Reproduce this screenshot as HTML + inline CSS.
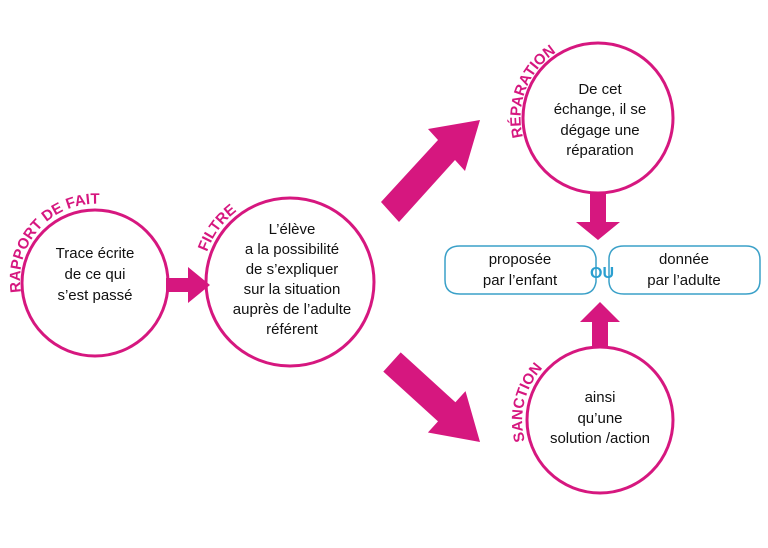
<!DOCTYPE html>
<html><head><meta charset="utf-8"><style>
html,body{margin:0;padding:0;background:#fff}
svg{display:block}
text{font-family:"Liberation Sans",Arial,sans-serif}
.t{font-size:15px;fill:#111;text-anchor:middle}
.l{font-size:15px;font-weight:bold;fill:#d6177f}
</style></head><body>
<svg width="768" height="548" viewBox="0 0 768 548">
<defs>
<path id="p1" d="M21,292 A76,76 0 0 1 118,207"/>
<path id="p2" d="M207,252 A88,88 0 0 1 246,205"/>
<path id="p3" d="M523,137 A78,78 0 0 1 585,41"/>
<path id="p4" d="M525,441 A77,77 0 0 1 562,353"/>
</defs>
<g fill="none" stroke="#d6177f" stroke-width="3">
<circle cx="95" cy="283" r="73"/>
<circle cx="290" cy="282" r="84"/>
<circle cx="598" cy="118" r="75"/>
<circle cx="600" cy="420" r="73"/>
</g>
<g fill="#d6177f">
<polygon points="166,278 188,278 188,267 210,285 188,303 188,292 166,292"/>
<polygon points="590,192 606,192 606,222 620,222 598,240 576,222 590,222"/>
<polygon points="592,347 608,347 608,322 620,322 600,302 580,322 592,322"/>
<polygon points="381,202 438,140 428,129 480,120 465,171 455,160 399,222"/>
<polygon points="400.7,352.4 455.4,402.2 465.5,391.1 480,442 427.9,432.5 438,421.4 383.3,371.6"/>
</g>
<g fill="none" stroke="#3aa0c8" stroke-width="1.5">
<path d="M460,246 H582 Q594,246 596,258 V282 Q594,294 582,294 H460 Q445,294 445,280 V260 Q445,246 460,246 Z"/>
<path d="M624,246 H746 Q760,246 760,260 V280 Q760,294 746,294 H624 Q610,294 609,282 V258 Q610,246 624,246 Z"/>
</g>
<text x="602" y="278" style="font-size:16px;font-weight:bold;fill:#2a9fd0;text-anchor:middle">OU</text>
<text class="t" x="520" y="264">proposée</text>
<text class="t" x="520" y="285">par l’enfant</text>
<text class="t" x="684" y="264">donnée</text>
<text class="t" x="684" y="285">par l’adulte</text>
<text class="t" x="95" y="258">Trace écrite</text>
<text class="t" x="95" y="279">de ce qui</text>
<text class="t" x="95" y="300">s’est passé</text>
<text class="t" x="292" y="234">L’élève</text>
<text class="t" x="292" y="254">a la possibilité</text>
<text class="t" x="292" y="274">de s’expliquer</text>
<text class="t" x="292" y="294">sur la situation</text>
<text class="t" x="292" y="314">auprès de l’adulte</text>
<text class="t" x="292" y="334">référent</text>
<text class="t" x="600" y="94">De cet</text>
<text class="t" x="600" y="114">échange, il se</text>
<text class="t" x="600" y="135">dégage une</text>
<text class="t" x="600" y="155">réparation</text>
<text class="t" x="600" y="402">ainsi</text>
<text class="t" x="600" y="423">qu’une</text>
<text class="t" x="600" y="443">solution /action</text>
<text class="l"><textPath href="#p1">RAPPORT DE FAIT</textPath></text>
<text class="l"><textPath href="#p2">FILTRE</textPath></text>
<text class="l"><textPath href="#p3">RÉPARATION</textPath></text>
<text class="l"><textPath href="#p4">SANCTION</textPath></text>
</svg>
</body></html>
